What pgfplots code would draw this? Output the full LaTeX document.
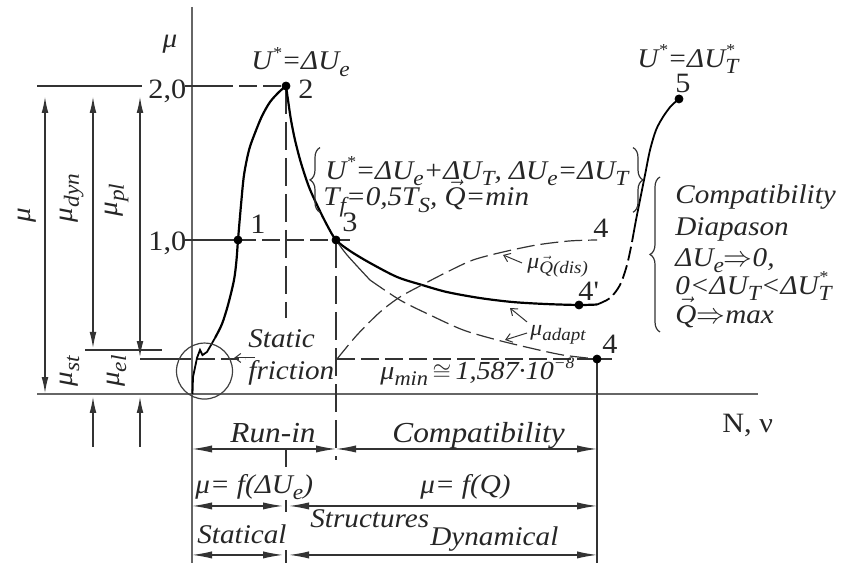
\documentclass[border=0pt]{standalone}
\usepackage{fontspec}
\setmainfont{Liberation Serif}[FakeStretch=1.08]
\usepackage{pgfplots}
\pgfplotsset{compat=1.18}
\usetikzlibrary{arrows.meta,decorations.pathreplacing}

% lowered / raised indices in the text font
\newcommand\lo[1]{\raisebox{-0.5ex}{\scalebox{0.8}{#1}}}
\newcommand\hi[1]{\raisebox{0.95ex}{\scalebox{0.62}{#1}}}
\newcommand\starT{\rlap{\hi{*}}\lo{T}}
\newcommand\vQ{\ensuremath{\vec{\mbox{\itshape Q}}}}
\newcommand\Ust{U\hi{*}}

\begin{document}
\begin{tikzpicture}[
  lab/.style={font=\fontsize{13.5}{16}\selectfont\itshape, inner sep=0pt, text=black!85},
  num/.style={font=\fontsize{14}{16}\selectfont, inner sep=0pt, text=black!85},
  note/.style={font=\fontsize{11}{13}\selectfont\itshape, inner sep=0pt, text=black!85},
  thinline/.style={line width=0.6pt, draw=black!80},
  axisline/.style={line width=1pt, draw=black!60},
  dimarrow/.style={thinline, {Latex[length=8pt,width=3.4pt]}-{Latex[length=8pt,width=3.4pt]}},
  uparrow/.style={thinline, -{Latex[length=8pt,width=3.4pt]}},
  rowarrow/.style={thinline, {Latex[length=10pt,width=3.6pt]}-{Latex[length=10pt,width=3.6pt]}},
  pointer/.style={line width=0.5pt, draw=black!80, -{Straight Barb[length=3pt,width=4.5pt]}},
  shortdash/.style={thinline, dash pattern=on 9pt off 3pt},
  longdash/.style={thinline, dash pattern=on 14pt off 4pt},
  brc/.style={thinline, decorate, decoration={brace, amplitude=5pt}},
]
\begin{axis}[
  scale only axis, width=422.5pt, height=281.5pt,
  xmin=-192, xmax=653, ymin=-1.0974, ymax=2.5584,
  hide axis, clip=false,
]
% ---------- axes ----------
\draw[axisline] (-155,0) -- (566,0);
\draw[axisline] (0,2.513) -- (0,-1.097);

% ---------- reference levels ----------
\draw[thinline] (-155,2) -- (-50,2);
\draw[thinline] (-7,2) -- (23,2);
\draw[shortdash] (23,2) -- (94,2);
\draw[thinline] (-7,1) -- (46,1);
\draw[shortdash] (46,1) -- (144,1);
\draw[thinline] (144,1) -- (158,1);
\draw[longdash] (94,2) -- (94,0.494);
\draw[longdash] (144,1) -- (144,-0.429);
\draw[thinline] (-107,0.286) -- (-30,0.286);
\draw[thinline] (-52,0.227) -- (-19,0.227);
\draw[shortdash] (-19,0.227) -- (53,0.227);
\draw[shortdash] (145,0.227) -- (420,0.227);
\draw[thinline] (405,0.227) -- (405,-1.097);

% ---------- dimension arrows on the left ----------
\draw[dimarrow] (-147,1.929) -- (-147,0.006);
\draw[dimarrow] (-99,1.929) -- (-99,0.299);
\draw[dimarrow] (-52,1.929) -- (-52,0.240);
\draw[uparrow] (-99,-0.344) -- (-99,-0.019);
\draw[uparrow] (-52,-0.344) -- (-52,-0.019);
\node[lab, rotate=90] at (-165,1.162) {μ};
\node[lab, rotate=90] at (-120,1.273) {μ\lo{dyn}};
\node[lab, rotate=90] at (-75,1.26) {μ\lo{pl}};
\node[lab, rotate=90] at (-122,0.149) {μ\lo{st}};
\node[lab, rotate=90] at (-75,0.149) {μ\lo{el}};

% ---------- friction curve ----------
\addplot[line width=0.9pt, black] coordinates {
  (0.5,0) (1,0.110) (5,0.234) (8,0.286) (10.5,0.253) (15,0.273) (19,0.318) (23,0.364)};
\addplot[line width=1.1pt, black, smooth, tension=0.5] coordinates {
  (23,0.364) (30,0.455) (36,0.578) (42,0.740) (44.5,0.870) (46,1.000) (49,1.227)
  (52,1.422) (57,1.584) (63,1.695) (70,1.805) (78,1.896) (87,1.961) (94,2.000)};
\addplot[line width=1.1pt, black, smooth, tension=0.5] coordinates {
  (94,2.000) (96,1.909) (99,1.779) (103,1.649) (109,1.500) (117,1.344) (126,1.214)
  (135,1.097) (144,1.000) (158,0.929) (178,0.851) (205,0.760) (230,0.708) (255,0.662)
  (288,0.623) (321,0.597) (355,0.584) (387,0.578) (405,0.581)};
\addplot[line width=0.9pt, black, smooth, tension=0.5, dash pattern=on 7pt off 2.5pt] coordinates {
  (405,0.581) (418,0.623) (428,0.708) (435,0.838) (440,0.987)};
\addplot[line width=0.9pt, black, smooth, tension=0.5] coordinates {
  (440,0.987) (444,1.130) (448,1.260) (453,1.422) (458,1.584) (464,1.714)
  (471,1.799) (479,1.870) (487,1.916)};
% adaptation and dissipation branches
\addplot[line width=0.6pt, black!80, smooth, tension=0.5] coordinates {
  (144,1.000) (155,0.903) (178,0.740)};
\addplot[line width=0.6pt, black!80, smooth, tension=0.5, dash pattern=on 9pt off 3pt] coordinates {
  (178,0.740) (208,0.610) (238,0.513) (271,0.416) (305,0.351) (338,0.299) (371,0.253) (405,0.227)};
\addplot[line width=0.6pt, black!80, smooth, tension=0.5, dash pattern=on 9pt off 3pt] coordinates {
  (145,0.227) (165,0.383) (188,0.532) (208,0.630) (230,0.708) (255,0.792) (281,0.870)
  (311,0.922) (345,0.968) (378,0.994) (405,1.000)};
% characteristic points
\addplot[only marks, mark=*, mark size=2pt, black] coordinates {
  (46,1) (94,2) (144,1) (387,0.578) (405,0.227) (487,1.916)};

% static friction zone
\draw[line width=0.6pt, black!75] (12.5,0.149) circle[radius=14pt];
\draw[pointer] (63,0.234) -- (42,0.234);
\node[lab, anchor=base west] at (56,0.299) {Static};
\node[lab, anchor=base west] at (56,0.091) {friction};

% ---------- labels ----------
\node[lab, anchor=base] at (-22,2.253) {μ};
\node[num, anchor=base west] at (-44,1.922) {2,0};
\node[num, anchor=base west] at (-44,0.929) {1,0};
\node[num, anchor=base west] at (58,1.045) {1};
\node[num, anchor=base west] at (106,1.922) {2};
\node[num, anchor=base west] at (150,1.052) {3};
\node[num, anchor=base west] at (401,1.019) {4};
\node[num, anchor=base west] at (386,0.604) {4\textquotesingle};
\node[num, anchor=base west] at (410,0.266) {4};
\node[num, anchor=base west] at (483,1.955) {5};
\node[lab, anchor=base west] at (59,2.104) {\Ust=ΔU\lo{e}};
\node[lab, anchor=base west] at (445,2.123) {\Ust=ΔU\starT};

\draw[pointer] (330,0.851) -- (311,0.903);
\node[note, anchor=base west] at (335,0.818) {μ\lo{\vQ(dis)}};
\draw[pointer] (335,0.468) -- (318,0.558);
\draw[pointer] (335,0.396) -- (313,0.351);
\node[note, anchor=base west] at (338,0.383) {μ\lo{adapt}};
\node[lab, anchor=base west, font=\fontsize{13}{15}\selectfont\itshape] at (188,0.091)
  {μ\lo{min}\,$\cong$\,1,587·10\hi{−8}};

% conditions of the run-in end
\draw[brc] (128,1.18) -- (128,1.60);
\draw[brc] (441,1.60) -- (441,1.18);
\node[lab, anchor=base west] at (133,1.396) {\Ust=ΔU\lo{e}+ΔU\lo{T}, ΔU\lo{e}=ΔU\lo{T}};
\node[lab, anchor=base west] at (131,1.221) {T\lo{f}=0,5T\lo{S}, \vQ=min};

% compatibility range
\draw[brc] (468,0.403) -- (468,1.409);
\node[lab, anchor=base west] at (483,1.240) {Compatibility};
\node[lab, anchor=base west] at (483,1.026) {Diapason};
\node[lab, anchor=base west] at (483,0.831) {ΔU\lo{e}$\Rightarrow$0,};
\node[lab, anchor=base west] at (483,0.649) {0<ΔU\lo{T}<ΔU\starT};
\node[lab, anchor=base west] at (483,0.461) {\vQ$\Rightarrow$max};

\node[num, anchor=base west] at (530,-0.253) {N, ν};

% ---------- stages below the axis ----------
\draw[rowarrow] (0,-0.357) -- (144,-0.357);
\draw[rowarrow] (144,-0.357) -- (405,-0.357);
\draw[rowarrow] (0,-0.727) -- (91,-0.727);
\draw[rowarrow] (97,-0.727) -- (405,-0.727);
\draw[rowarrow] (0,-1.045) -- (91,-1.045);
\draw[rowarrow] (97,-1.045) -- (405,-1.045);
\draw[thinline] (94,-0.364) -- (94,-0.474);
\draw[thinline] (94,-0.688) -- (94,-0.766);
\draw[thinline] (94,-1.013) -- (94,-1.097);

\node[lab, anchor=base west, font=\fontsize{14.5}{16}\selectfont\itshape] at (38,-0.318) {Run-in};
\node[lab, anchor=base west, font=\fontsize{14.5}{16}\selectfont\itshape] at (200,-0.318) {Compatibility};
\node[lab, anchor=base west] at (3,-0.643) {μ= f(ΔU\lo{e})};
\node[lab, anchor=base west] at (228,-0.643) {μ= f(Q)};
\node[lab, anchor=base west] at (5,-0.968) {Statical};
\node[lab, anchor=base west] at (118,-0.864) {Structures};
\node[lab, anchor=base west] at (238,-0.981) {Dynamical};
\end{axis}
\pgfresetboundingbox
\path[use as bounding box] (current axis.south west) rectangle (current axis.north east);
\end{tikzpicture}
\end{document}
